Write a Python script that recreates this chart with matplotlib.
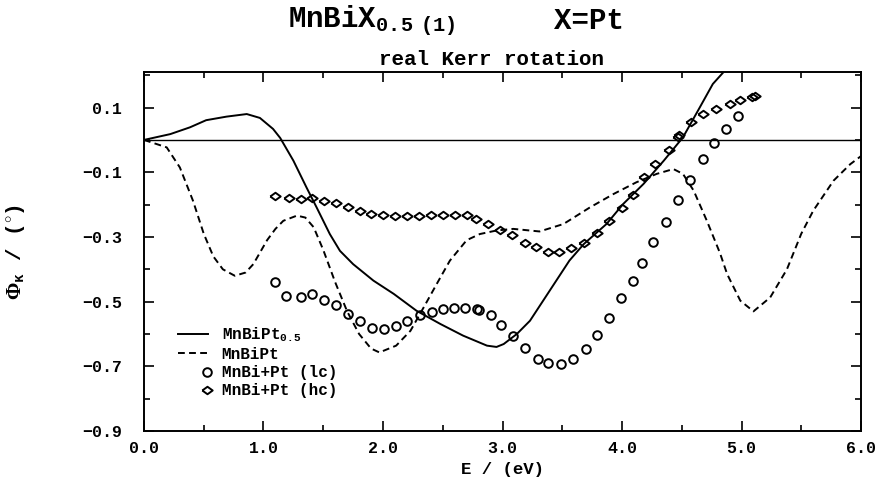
import numpy as np
import matplotlib
matplotlib.use("Agg")
import matplotlib.pyplot as plt
from matplotlib.legend_handler import HandlerLine2D

plt.rcParams['font.family'] = ['Liberation Mono', 'DejaVu Sans']
plt.rcParams['font.weight'] = 'bold'
plt.rcParams['axes.labelweight'] = 'bold'
plt.rcParams['mathtext.fontset'] = 'custom'
plt.rcParams['mathtext.rm'] = 'Liberation Mono:bold'
plt.rcParams['mathtext.it'] = 'Liberation Mono:bold'
plt.rcParams['mathtext.bf'] = 'Liberation Mono:bold'
plt.rcParams['mathtext.sf'] = 'Liberation Serif'

# MnBiPt0.5 (calc., solid)
calc_half_E = [0, 0.22, 0.385, 0.52, 0.69, 0.86, 0.97, 1.08, 1.14, 1.25, 1.36, 1.445,
               1.555, 1.64, 1.75, 1.92, 2.09, 2.28, 2.48, 2.67, 2.87, 2.95, 3.01, 3.12,
               3.23, 3.34, 3.45, 3.56, 3.68, 3.79, 3.87, 4.01, 4.18, 4.35, 4.51, 4.65,
               4.76, 4.86, 4.95]
calc_half_phi = [0, 0.018, 0.039, 0.061, 0.072, 0.080, 0.068, 0.034, 0.006, -0.064, -0.147,
                 -0.209, -0.291, -0.343, -0.384, -0.435, -0.476, -0.528, -0.569, -0.605,
                 -0.636, -0.640, -0.631, -0.600, -0.559, -0.497, -0.435, -0.373, -0.322,
                 -0.286, -0.26, -0.198, -0.136, -0.064, 0.008, 0.10, 0.173, 0.214, 0.27]

# MnBiPt (calc., dashed)
calc_full_E = [0, 0.19, 0.30, 0.41, 0.50, 0.58, 0.66, 0.76, 0.85, 0.915, 1.03, 1.10, 1.166,
               1.28, 1.35, 1.42, 1.50, 1.60, 1.70, 1.80, 1.90, 1.97, 2.11, 2.23, 2.34, 2.45,
               2.56, 2.70, 2.81, 2.95, 3.09, 3.31, 3.51, 3.73, 3.93, 4.12, 4.29, 4.43, 4.51,
               4.60, 4.71, 4.82, 4.88, 4.99, 5.10, 5.24, 5.38, 5.50, 5.60, 5.77, 5.91, 6.0]
calc_full_phi = [0, -0.023, -0.085, -0.188, -0.29, -0.36, -0.40, -0.42, -0.41, -0.384, -0.31,
                 -0.275, -0.25, -0.234, -0.24, -0.27, -0.34, -0.44, -0.53, -0.60, -0.645,
                 -0.657, -0.636, -0.59, -0.518, -0.445, -0.373, -0.31, -0.291, -0.28, -0.275,
                 -0.283, -0.26, -0.209, -0.167, -0.131, -0.105, -0.09, -0.105, -0.157, -0.25,
                 -0.35, -0.415, -0.497, -0.53, -0.487, -0.40, -0.29, -0.219, -0.126, -0.075,
                 -0.05]

# MnBi+Pt (lc), measured
lc_E = [1.10, 1.19, 1.31, 1.41, 1.51, 1.61, 1.71, 1.81, 1.91, 2.01, 2.11, 2.20, 2.31, 2.41,
        2.50, 2.59, 2.69, 2.79, 2.80, 2.90, 2.99, 3.09, 3.19, 3.30, 3.38, 3.49, 3.59, 3.70,
        3.79, 3.89, 3.99, 4.09, 4.17, 4.26, 4.37, 4.47, 4.57, 4.68, 4.77, 4.87, 4.97]
lc_phi = [-0.438, -0.482, -0.485, -0.476, -0.494, -0.509, -0.538, -0.559, -0.58, -0.586,
          -0.576, -0.559, -0.540, -0.533, -0.523, -0.52, -0.52, -0.522, -0.527, -0.541,
          -0.571, -0.607, -0.643, -0.677, -0.689, -0.692, -0.676, -0.647, -0.603, -0.551,
          -0.49, -0.435, -0.379, -0.317, -0.255, -0.186, -0.123, -0.06, -0.011, 0.034, 0.074]

# MnBi+Pt (hc), measured
hc_E = [1.10, 1.21, 1.31, 1.41, 1.51, 1.61, 1.71, 1.81, 1.90, 2.00, 2.10, 2.20, 2.30, 2.40,
        2.50, 2.60, 2.70, 2.78, 2.88, 2.98, 3.08, 3.19, 3.28, 3.38, 3.47, 3.57, 3.68, 3.79,
        3.89, 4.00, 4.09, 4.18, 4.28, 4.39, 4.47, 4.48, 4.58, 4.68, 4.79, 4.90, 4.99, 5.085,
        5.11]
hc_phi = [-0.172, -0.181, -0.183, -0.181, -0.188, -0.196, -0.206, -0.221, -0.229, -0.232,
          -0.234, -0.236, -0.234, -0.232, -0.231, -0.231, -0.232, -0.245, -0.26, -0.28,
          -0.294, -0.318, -0.33, -0.348, -0.348, -0.333, -0.32, -0.288, -0.25, -0.209, -0.17,
          -0.114, -0.075, -0.031, 0.008, 0.016, 0.054, 0.080, 0.095, 0.111, 0.123, 0.132, 0.135]

labels = [r'MnBiPt$_{0.5}$', 'MnBiPt', 'MnBi+Pt (lc)', 'MnBi+Pt (hc)']

# flat diamond, wider than tall
diamond = [(-1, 0), (0, 0.72), (1, 0), (0, -0.72), (-1, 0)]


class EndMarker(HandlerLine2D):
    # put the single marker at the right end of the handle, as in the original
    def get_xdata(self, legend, xdescent, ydescent, width, height, fontsize):
        x = -xdescent + width - 1
        return np.array([x, x]), np.array([x])


fig = plt.figure(figsize=(8.85, 4.8), dpi=100)
ax = fig.add_axes([0.1627, 0.102, 0.8102, 0.748])

ax.axhline(0, color='black', lw=1.0)
l1, = ax.plot(calc_half_E, calc_half_phi, color='black', lw=1.4)
l2, = ax.plot(calc_full_E, calc_full_phi, color='black', lw=1.4, linestyle=(0, (3.5, 2.2)))
l3, = ax.plot(lc_E, lc_phi, linestyle='none', marker='o', ms=6.2, mfc='none', mec='black', mew=1.4)
l4, = ax.plot(hc_E, hc_phi, linestyle='none', marker=diamond, ms=7.5, mfc='none', mec='black', mew=1.4)

ax.set_xlim(0, 6)
ax.set_ylim(-0.9, 0.21)
ax.set_xticks(np.arange(0, 6.01, 1.0))
ax.set_xticks(np.arange(0, 6.01, 0.5), minor=True)
ax.set_xticklabels(['%.1f' % v for v in np.arange(0, 6.01, 1.0)])
ax.set_yticks([0.1, -0.1, -0.3, -0.5, -0.7, -0.9])
ax.set_yticks(np.arange(-0.9, 0.21, 0.1), minor=True)
ax.set_yticklabels(['0.1', '\u22120.1', '\u22120.3', '\u22120.5', '\u22120.7', '\u22120.9'])

ax.tick_params(which='both', direction='in', top=True, right=True, width=1.2)
ax.tick_params(which='major', length=7.5, labelsize=12)
ax.tick_params(which='minor', length=4.5)
ax.tick_params(axis='x', which='major', pad=7)
ax.tick_params(axis='y', which='major', pad=16)
for s in ax.spines.values():
    s.set_linewidth(1.4)

ax.set_xlabel('E / (eV)', fontsize=12.5, fontweight='bold')
ax.xaxis.set_label_coords(0.5, -0.085)
ax.set_ylabel(r'$\mathsf{\Phi}_{\kappa}$ / ($^{\circ}$)', fontsize=15, fontweight='bold')
ax.yaxis.set_label_coords(-0.163, 0.5)

ax.legend([l1, l2, l3, l4], labels, loc='upper left', bbox_to_anchor=(0.047, 0.295),
          frameon=False, fontsize=11.5, handlelength=1.9, handletextpad=0.85,
          labelspacing=0.2, borderpad=0, borderaxespad=0, numpoints=1,
          handler_map={l3: EndMarker(), l4: EndMarker()})

fig.text(0.325, 0.956, r'MnBiX$_{0.5\ \ (1)}$', fontsize=21, ha='left', va='center')
fig.text(0.626, 0.956, 'X=Pt', fontsize=21, ha='left', va='center')
fig.text(0.555, 0.877, 'real Kerr rotation', fontsize=15, ha='center', va='center')

fig.savefig('out.png', dpi=100)
